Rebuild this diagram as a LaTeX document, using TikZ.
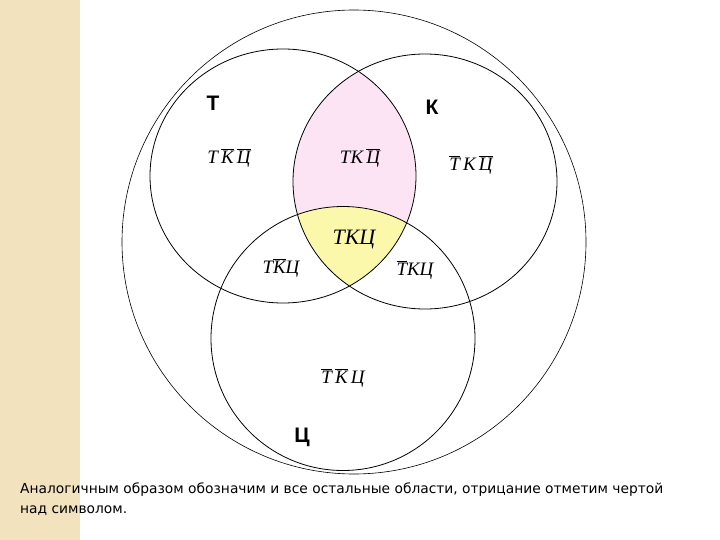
\documentclass[tikz,border=0pt]{standalone}
\usepackage{fontspec}
\setmainfont{Liberation Serif}
\newfontfamily\arialfont{Liberation Sans}
\newfontfamily\notefont{DejaVu Sans}
\usetikzlibrary{positioning}
\definecolor{VNPink}  {HTML}{FCE4F4}
\definecolor{VNYellow}{HTML}{FBF8AC}
\definecolor{VNStrip} {HTML}{F2E2BE}
\newcommand{\ngt}[1]{\leavevmode\vbox{\hrule height 0.6pt\kern1.8pt\hbox{#1}}}
\newcommand{\setT}{(283,176) ellipse [x radius=133,y radius=127]}
\newcommand{\setK}{(425,181.5) ellipse [x radius=132,y radius=127.5]}
\newcommand{\setC}{(343,338.5) circle [radius=132]}

\begin{document}
\begin{tikzpicture}[x=1pt,y=-1pt,
  venn/.style={draw=black,line width=0.8pt},
  region/.style={font=\fontsize{19}{19}\selectfont\itshape,inner sep=1pt},
  setlbl/.style={font=\arialfont\bfseries\fontsize{21}{21}\selectfont,inner sep=1pt},
  note/.style={font=\notefont\fontsize{13.8}{20}\selectfont,align=left,inner sep=0pt}
]
  \useasboundingbox (0,0) rectangle (720,540);
  \fill[white] (0,0) rectangle (720,540);
  \fill[VNStrip] (0,0) rectangle (80,540);

  % shaded regions
  \begin{scope}
    \clip \setT;
    \fill[VNPink] \setK;
    \clip \setK;
    \fill[VNYellow] \setC;
  \end{scope}

  % universe and sets
  \draw[line width=0.6pt] (354,242) circle [radius=232];
  \draw[venn] \setT;
  \draw[venn] \setK;
  \draw[venn] \setC;

  % set names
  \node[setlbl] (lt) at (213,103) {Т};
  \node[setlbl] (lk) at (432,107) {К};
  \node[setlbl] (lc) at (302,437) {Ц};

  % region labels
  \node[region] (rt)   at (229,158) {Т\,\ngt{К}\,\ngt{Ц}};
  \node[region] (rtk)  at (360,158) {ТК\,\ngt{Ц}};
  \node[region] (rk)   at (471,165) {\ngt{Т}\,К\,\ngt{Ц}};
  \node[region] (rtc)  at (281,268) {Т\ngt{К}Ц};
  \node[region] (rkc)  at (415,270) {\ngt{Т}КЦ};
  \node[region] (rc)   at (343,378) {\ngt{Т}\,\ngt{К}\,Ц};
  \node[region,font=\fontsize{22}{22}\selectfont\itshape] (rtkc) at (354,240) {ТКЦ};

  % caption
  \node[note,anchor=north west] (txt) at (20,483)
    {Аналогичным образом обозначим и все остальные области, отрицание отметим чертой\\
     над символом.};
\end{tikzpicture}
\end{document}
